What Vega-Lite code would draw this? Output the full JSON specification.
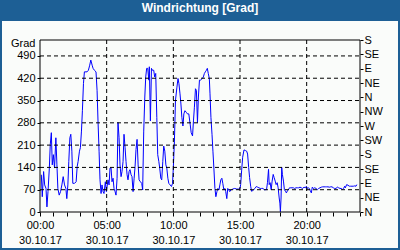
{
  "$schema": "https://vega.github.io/schema/vega-lite/v6.json",
  "width": 396,
  "height": 227,
  "autosize": {"type": "none"},
  "padding": {"left": 2, "top": 21, "right": 2, "bottom": 2},
  "background": "#1d5f95",
  "config": {
    "view": {"fill": "#fafcfa", "stroke": null},
    "font": "Liberation Sans",
    "axis": {"labelColor": "black", "tickColor": "black", "titleColor": "black", "labelFont": "Liberation Sans", "labelFontSize": 11, "titleFont": "Liberation Sans", "titleFontSize": 11, "titleFontWeight": "normal", "labelOverlap": false, "labelBound": false, "labelFlush": false, "domain": false, "grid": false}
  },
  "title": {"text": "Windrichtung [Grad]", "color": "white", "font": "Liberation Sans", "fontSize": 12, "fontWeight": "bold", "anchor": "middle", "offset": 6, "frame": "group"},
  "datasets": {
    "hgrid": [{"v": 70}, {"v": 140}, {"v": 210}, {"v": 280}, {"v": 350}, {"v": 420}, {"v": 490}],
    "vgrid": [{"h": 5}, {"h": 10}, {"h": 15}, {"h": 20}],
    "wind": [
      {"h": 0.10, "v": 117}, {"h": 0.17, "v": 48}, {"h": 0.27, "v": 127}, {"h": 0.35, "v": 85}, {"h": 0.45, "v": 74}, {"h": 0.52, "v": 16}, {"h": 0.60, "v": 64}, {"h": 0.70, "v": 138}, {"h": 0.77, "v": 212}, {"h": 0.85, "v": 249}, {"h": 0.92, "v": 148}, {"h": 1.00, "v": 180}, {"h": 1.09, "v": 138}, {"h": 1.19, "v": 233}, {"h": 1.27, "v": 148}, {"h": 1.34, "v": 74}, {"h": 1.44, "v": 53}, {"h": 1.54, "v": 64}, {"h": 1.64, "v": 85}, {"h": 1.74, "v": 111}, {"h": 1.84, "v": 85}, {"h": 1.94, "v": 74}, {"h": 2.01, "v": 42}, {"h": 2.09, "v": 85}, {"h": 2.16, "v": 159}, {"h": 2.24, "v": 233}, {"h": 2.31, "v": 244}, {"h": 2.39, "v": 191}, {"h": 2.46, "v": 90}, {"h": 2.59, "v": 90}, {"h": 2.71, "v": 95}, {"h": 2.79, "v": 143}, {"h": 2.86, "v": 159}, {"h": 2.96, "v": 191}, {"h": 3.03, "v": 202}, {"h": 3.11, "v": 254}, {"h": 3.18, "v": 318}, {"h": 3.26, "v": 403}, {"h": 3.33, "v": 440}, {"h": 3.53, "v": 440}, {"h": 3.63, "v": 445}, {"h": 3.73, "v": 461}, {"h": 3.81, "v": 477}, {"h": 3.91, "v": 461}, {"h": 3.98, "v": 451}, {"h": 4.08, "v": 445}, {"h": 4.20, "v": 440}, {"h": 4.28, "v": 382}, {"h": 4.35, "v": 286}, {"h": 4.43, "v": 191}, {"h": 4.50, "v": 101}, {"h": 4.58, "v": 58}, {"h": 4.65, "v": 85}, {"h": 4.73, "v": 64}, {"h": 4.80, "v": 58}, {"h": 4.90, "v": 95}, {"h": 4.98, "v": 64},
      {"h": 5.10, "v": 101}, {"h": 5.18, "v": 85}, {"h": 5.25, "v": 138}, {"h": 5.33, "v": 138}, {"h": 5.40, "v": 95}, {"h": 5.48, "v": 106}, {"h": 5.55, "v": 74}, {"h": 5.63, "v": 64}, {"h": 5.70, "v": 53}, {"h": 5.78, "v": 106}, {"h": 5.85, "v": 281}, {"h": 5.93, "v": 233}, {"h": 6.00, "v": 148}, {"h": 6.08, "v": 111}, {"h": 6.15, "v": 127}, {"h": 6.23, "v": 159}, {"h": 6.30, "v": 244}, {"h": 6.38, "v": 202}, {"h": 6.45, "v": 159}, {"h": 6.53, "v": 117}, {"h": 6.60, "v": 101}, {"h": 6.68, "v": 127}, {"h": 6.75, "v": 133}, {"h": 6.83, "v": 117}, {"h": 6.90, "v": 111}, {"h": 6.98, "v": 64}, {"h": 7.06, "v": 106}, {"h": 7.13, "v": 143}, {"h": 7.20, "v": 196}, {"h": 7.28, "v": 228}, {"h": 7.36, "v": 148}, {"h": 7.43, "v": 101}, {"h": 7.53, "v": 95}, {"h": 7.63, "v": 90}, {"h": 7.70, "v": 69}, {"h": 7.78, "v": 254}, {"h": 7.86, "v": 361}, {"h": 7.93, "v": 424}, {"h": 8.00, "v": 451}, {"h": 8.08, "v": 451}, {"h": 8.16, "v": 414}, {"h": 8.20, "v": 456}, {"h": 8.28, "v": 286}, {"h": 8.36, "v": 451}, {"h": 8.43, "v": 445}, {"h": 8.53, "v": 445}, {"h": 8.60, "v": 424}, {"h": 8.68, "v": 435}, {"h": 8.76, "v": 297}, {"h": 8.83, "v": 180}, {"h": 8.91, "v": 159}, {"h": 8.98, "v": 138}, {"h": 9.06, "v": 106}, {"h": 9.13, "v": 101}, {"h": 9.21, "v": 159}, {"h": 9.28, "v": 207}, {"h": 9.36, "v": 191}, {"h": 9.44, "v": 148}, {"h": 9.51, "v": 138}, {"h": 9.59, "v": 106}, {"h": 9.66, "v": 90}, {"h": 9.76, "v": 85}, {"h": 9.86, "v": 80}, {"h": 9.94, "v": 90},
      {"h": 10.00, "v": 140}, {"h": 10.08, "v": 220}, {"h": 10.16, "v": 350}, {"h": 10.27, "v": 392}, {"h": 10.35, "v": 419}, {"h": 10.42, "v": 403}, {"h": 10.50, "v": 371}, {"h": 10.57, "v": 339}, {"h": 10.64, "v": 297}, {"h": 10.72, "v": 270}, {"h": 10.79, "v": 308}, {"h": 10.87, "v": 318}, {"h": 10.97, "v": 313}, {"h": 11.06, "v": 308}, {"h": 11.16, "v": 308}, {"h": 11.26, "v": 276}, {"h": 11.34, "v": 249}, {"h": 11.44, "v": 239}, {"h": 11.51, "v": 286}, {"h": 11.58, "v": 329}, {"h": 11.66, "v": 387}, {"h": 11.73, "v": 382}, {"h": 11.81, "v": 281}, {"h": 11.88, "v": 361}, {"h": 11.96, "v": 414}, {"h": 12.03, "v": 414}, {"h": 12.10, "v": 416}, {"h": 12.18, "v": 419}, {"h": 12.25, "v": 424}, {"h": 12.33, "v": 435}, {"h": 12.40, "v": 440}, {"h": 12.48, "v": 445}, {"h": 12.55, "v": 451}, {"h": 12.62, "v": 435}, {"h": 12.70, "v": 419}, {"h": 12.75, "v": 371}, {"h": 12.82, "v": 297}, {"h": 12.90, "v": 244}, {"h": 12.97, "v": 191}, {"h": 13.04, "v": 138}, {"h": 13.12, "v": 74}, {"h": 13.19, "v": 48}, {"h": 13.27, "v": 64}, {"h": 13.34, "v": 74}, {"h": 13.42, "v": 69}, {"h": 13.49, "v": 85}, {"h": 13.56, "v": 101}, {"h": 13.64, "v": 106}, {"h": 13.71, "v": 90}, {"h": 13.79, "v": 69}, {"h": 13.86, "v": 74}, {"h": 13.93, "v": 64}, {"h": 14.01, "v": 42}, {"h": 14.08, "v": 74}, {"h": 14.16, "v": 69}, {"h": 14.23, "v": 64}, {"h": 14.31, "v": 69}, {"h": 14.46, "v": 72}, {"h": 14.60, "v": 74}, {"h": 14.75, "v": 72}, {"h": 14.88, "v": 72}, {"h": 15.00, "v": 74},
      {"h": 15.05, "v": 86}, {"h": 15.12, "v": 129}, {"h": 15.20, "v": 172}, {"h": 15.30, "v": 195}, {"h": 15.40, "v": 193}, {"h": 15.50, "v": 191}, {"h": 15.57, "v": 182}, {"h": 15.65, "v": 140}, {"h": 15.72, "v": 108}, {"h": 15.80, "v": 81}, {"h": 15.87, "v": 65}, {"h": 15.95, "v": 67}, {"h": 16.02, "v": 70}, {"h": 16.12, "v": 74}, {"h": 16.22, "v": 80}, {"h": 16.32, "v": 78}, {"h": 16.42, "v": 76}, {"h": 16.52, "v": 74}, {"h": 16.62, "v": 74}, {"h": 16.72, "v": 74}, {"h": 16.82, "v": 70}, {"h": 16.92, "v": 70}, {"h": 16.99, "v": 70}, {"h": 17.06, "v": 92}, {"h": 17.14, "v": 134}, {"h": 17.19, "v": 86}, {"h": 17.26, "v": 92}, {"h": 17.34, "v": 70}, {"h": 17.41, "v": 97}, {"h": 17.49, "v": 118}, {"h": 17.56, "v": 108}, {"h": 17.64, "v": 97}, {"h": 17.71, "v": 86}, {"h": 17.79, "v": 92}, {"h": 17.86, "v": 76}, {"h": 17.94, "v": 44}, {"h": 17.99, "v": 28}, {"h": 18.03, "v": 1}, {"h": 18.08, "v": 44}, {"h": 18.13, "v": 140}, {"h": 18.18, "v": 118}, {"h": 18.26, "v": 97}, {"h": 18.33, "v": 70}, {"h": 18.41, "v": 65}, {"h": 18.48, "v": 60}, {"h": 18.56, "v": 67}, {"h": 18.63, "v": 70}, {"h": 18.71, "v": 76}, {"h": 18.81, "v": 76}, {"h": 18.90, "v": 76}, {"h": 19.00, "v": 76}, {"h": 19.10, "v": 74}, {"h": 19.20, "v": 76}, {"h": 19.30, "v": 76}, {"h": 19.40, "v": 76}, {"h": 19.50, "v": 78}, {"h": 19.60, "v": 76}, {"h": 19.70, "v": 74}, {"h": 19.80, "v": 78}, {"h": 19.90, "v": 76}, {"h": 19.98, "v": 81},
      {"h": 20.05, "v": 74}, {"h": 20.12, "v": 76}, {"h": 20.20, "v": 74}, {"h": 20.27, "v": 67}, {"h": 20.35, "v": 60}, {"h": 20.42, "v": 78}, {"h": 20.50, "v": 74}, {"h": 20.60, "v": 76}, {"h": 20.70, "v": 74}, {"h": 20.80, "v": 70}, {"h": 20.90, "v": 74}, {"h": 21.00, "v": 76}, {"h": 21.10, "v": 78}, {"h": 21.20, "v": 79}, {"h": 21.30, "v": 79}, {"h": 21.40, "v": 79}, {"h": 21.50, "v": 79}, {"h": 21.60, "v": 79}, {"h": 21.70, "v": 78}, {"h": 21.80, "v": 79}, {"h": 21.90, "v": 79}, {"h": 22.00, "v": 76}, {"h": 22.10, "v": 74}, {"h": 22.20, "v": 74}, {"h": 22.30, "v": 78}, {"h": 22.40, "v": 76}, {"h": 22.50, "v": 74}, {"h": 22.60, "v": 74}, {"h": 22.70, "v": 71}, {"h": 22.77, "v": 74}, {"h": 22.85, "v": 81}, {"h": 22.90, "v": 76}, {"h": 23.00, "v": 86}, {"h": 23.10, "v": 84}, {"h": 23.20, "v": 81}, {"h": 23.30, "v": 81}, {"h": 23.40, "v": 81}, {"h": 23.50, "v": 81}, {"h": 23.60, "v": 82}, {"h": 23.70, "v": 81}, {"h": 23.76, "v": 86}
    ]
  },
  "layer": [
    {
      "layer": [
        {
          "data": {"name": "wind"},
          "mark": {"type": "line", "color": "#0000ff", "strokeWidth": 1},
          "encoding": {
            "x": {
              "field": "h", "type": "quantitative",
              "scale": {"domain": [-2.85, 26.85], "nice": false, "zero": false},
              "axis": {
                "orient": "bottom", "offset": -36, "values": [0,1,2,3,4,5,6,7,8,9,10,11,12,13,14,15,16,17,18,19,20,21,22,23,24],
                "tickSize": 4, "labelPadding": 3, "labelLineHeight": 15, "labelOverlap": false,
                "labelExpr": "datum.value % 5 === 0 ? [(datum.value < 10 ? '0' : '') + datum.value + ':00', '30.10.17'] : ''",
                "title": null
              }
            },
            "y": {
              "field": "v", "type": "quantitative",
              "scale": {"domain": [-113, 599.65], "nice": false, "zero": false},
              "axis": {
                "orient": "left", "offset": -38, "values": [0,70,140,210,280,350,420,490],
                "tickSize": 3, "labelPadding": 2, "labelOverlap": false,
                "title": "Grad", "titleAngle": 0, "titleAlign": "right", "titleBaseline": "middle", "titleX": -5, "titleY": 22
              }
            }
          }
        },
        {
          "data": {"name": "hgrid"},
          "mark": {"type": "rule", "color": "black", "strokeWidth": 1, "strokeDash": [4, 3]},
          "encoding": {
            "y": {
              "field": "v", "type": "quantitative",
              "axis": {
                "orient": "left", "offset": -38, "values": [0,70,140,210,280,350,420,490],
                "tickSize": 3, "labelPadding": 2, "labelOverlap": false,
                "title": "Grad", "titleAngle": 0, "titleAlign": "right", "titleBaseline": "middle", "titleX": -5, "titleY": 22
              }
            },
            "x": {
              "datum": 0, "type": "quantitative",
              "axis": {
                "orient": "bottom", "offset": -36, "values": [0,1,2,3,4,5,6,7,8,9,10,11,12,13,14,15,16,17,18,19,20,21,22,23,24],
                "tickSize": 4, "labelPadding": 3, "labelLineHeight": 15, "labelOverlap": false,
                "labelExpr": "datum.value % 5 === 0 ? [(datum.value < 10 ? '0' : '') + datum.value + ':00', '30.10.17'] : ''",
                "title": null
              }
            },
            "x2": {"datum": 24}
          }
        },
        {
          "data": {"name": "vgrid"},
          "mark": {"type": "rule", "color": "black", "strokeWidth": 1, "strokeDash": [4, 3]},
          "encoding": {
            "x": {
              "field": "h", "type": "quantitative",
              "axis": {
                "orient": "bottom", "offset": -36, "values": [0,1,2,3,4,5,6,7,8,9,10,11,12,13,14,15,16,17,18,19,20,21,22,23,24],
                "tickSize": 4, "labelPadding": 3, "labelLineHeight": 15, "labelOverlap": false,
                "labelExpr": "datum.value % 5 === 0 ? [(datum.value < 10 ? '0' : '') + datum.value + ':00', '30.10.17'] : ''",
                "title": null
              }
            },
            "y": {
              "datum": 0, "type": "quantitative",
              "axis": {
                "orient": "left", "offset": -38, "values": [0,70,140,210,280,350,420,490],
                "tickSize": 3, "labelPadding": 2, "labelOverlap": false,
                "title": "Grad", "titleAngle": 0, "titleAlign": "right", "titleBaseline": "middle", "titleX": -5, "titleY": 22
              }
            },
            "y2": {"datum": 540}
          }
        }
      ]
    },
    {
      "data": {"values": [{"x0": 0, "x1": 24, "y0": 0, "y1": 540}]},
      "mark": {"type": "rect", "fillOpacity": 0, "stroke": "black", "strokeWidth": 1},
      "encoding": {
        "x": {
          "field": "x0", "type": "quantitative",
          "axis": {
            "orient": "bottom", "offset": -36, "values": [0,1,2,3,4,5,6,7,8,9,10,11,12,13,14,15,16,17,18,19,20,21,22,23,24],
            "tickSize": 4, "labelPadding": 3, "labelLineHeight": 15, "labelOverlap": false,
            "labelExpr": "datum.value % 5 === 0 ? [(datum.value < 10 ? '0' : '') + datum.value + ':00', '30.10.17'] : ''",
            "title": null
          }
        },
        "x2": {"field": "x1"},
        "y": {
          "field": "y0", "type": "quantitative",
          "scale": {"domain": [-113, 599.65], "nice": false, "zero": false},
          "axis": {
            "orient": "right", "offset": -38, "values": [0,45,90,135,180,225,270,315,360,405,450,495,540],
            "tickSize": 3, "labelPadding": 1,
            "labelExpr": "['N','NE','E','SE','S','SW','W','NW'][(datum.value/45)%8]",
            "title": null
          }
        },
        "y2": {"field": "y1"}
      }
    }
  ],
  "resolve": {"scale": {"y": "independent"}, "axis": {"y": "independent"}}
}
